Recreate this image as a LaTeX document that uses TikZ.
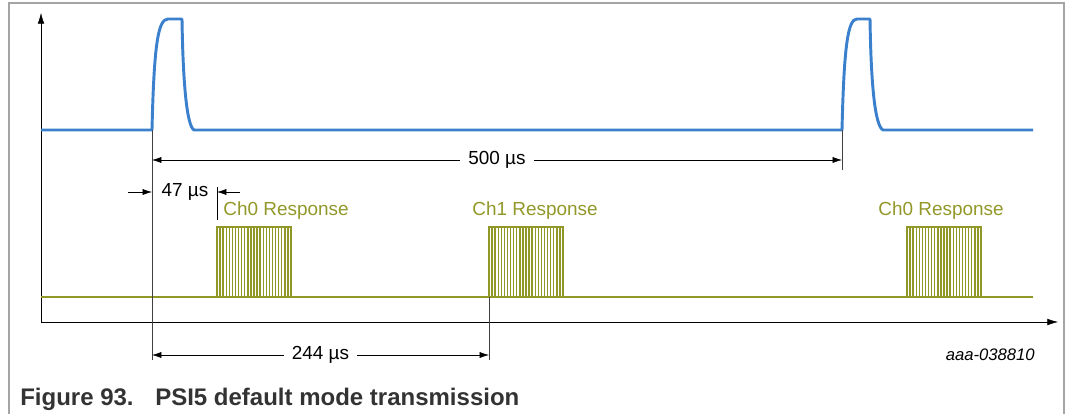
\documentclass[tikz,border=0pt]{standalone}
\usepackage{fontspec}
\setmainfont{Liberation Sans}
\usetikzlibrary{arrows.meta,calc,positioning}
\definecolor{sigblue}{RGB}{58,128,204}
\definecolor{respgreen}{RGB}{146,152,40}
\definecolor{framegray}{RGB}{165,165,165}
\definecolor{capgray}{RGB}{51,51,51}

\begin{document}
\begin{tikzpicture}[x=0.75pt,y=-0.75pt,
    lbl/.style={inner sep=1pt, font=\fontsize{14.2}{16}\selectfont},
    resplbl/.style={lbl, text=respgreen},
    dimline/.style={thin, {Latex[length=7pt,width=4.5pt]}-{Latex[length=7pt,width=4.5pt]}},
    tickline/.style={thin, black!75},
    axis/.style={thin, -{Latex[length=8pt,width=5pt]}},
    caption/.style={anchor=base west, inner sep=0pt, text=capgray, font=\fontsize{18}{20}\selectfont\bfseries}]
        \useasboundingbox (0,0) rectangle (1066,414);
        % Frame
        \draw[framegray, thick] (9,414) -- (9,3) -- (1064,3) -- (1064,414);
        % Define coordinates
        \coordinate (O) at (41,322);
        \coordinate (T0) at (152,130);
        \coordinate (T1) at (842,130);
        \coordinate (C0) at (217,297);
        \coordinate (C1) at (489,297);
        \coordinate (C2) at (907,297);
        % Axes
        \draw[axis] (O) -- (41,13);
        \draw[axis] (O) -- (1058,322);
        % Trigger pulses
        \draw[sigblue, line width=2.2pt, line join=round]
            (41,130) -- (T0) .. controls (154,45) and (158,19) .. (168,19) -- (182,19)
            .. controls (183,85) and (187,126) .. (194,130) -- (T1)
            .. controls (844,45) and (848,19) .. (857,19) -- (870,19)
            .. controls (871,85) and (875,126) .. (883,130) -- (1033,130);
        % Response baseline and blocks
        \draw[respgreen, line width=1.3pt] (41,297) -- (1033,297);
        \foreach \b in {C0,C1,C2} {
            \draw[respgreen, line width=1.5pt] (\b) -- ++(0,-70) -- ++(74,0) -- ++(0,70);
            \foreach \i in {1,...,23}
                \draw[respgreen, line width=1.1pt] ($(\b)+(\i*3.083,0)$) -- ++(0,-70);
        }
        \node[resplbl] (ch0a) at (286,211) {Ch0 Response};
        \node[resplbl] (ch1) at (535,211) {Ch1 Response};
        \node[resplbl] (ch0b) at (941,211) {Ch0 Response};
        % Tick lines
        \coordinate (T0b) at (152,360);
        \coordinate (T1b) at (842,170);
        \coordinate (C1b) at (489,360);
        \coordinate (C0t) at (217,187);
        \coordinate (C0m) at (217,220);
        \draw[tickline] (T0) -- (T0b);
        \draw[tickline] (T1) -- (T1b);
        \draw[tickline] (C1) -- (C1b);
        \draw[tickline, black] (C0t) -- (C0m);
        % 500 us
        \draw[dimline] (152,160) -- node[lbl, fill=white, inner xsep=6pt] (d500) {500 µs} (842,160);
        % 47 us
        \coordinate (a47l) at (128,192);
        \coordinate (a47r) at (240,192);
        \draw[thin, -{Latex[length=7pt,width=4.5pt]}] (a47l) -- (152,192);
        \draw[thin, -{Latex[length=7pt,width=4.5pt]}] (a47r) -- (217,192);
        \node[lbl] (d47) at (185,192) {47 µs};
        % 244 us
        \draw[dimline] (152,355) -- node[lbl, fill=white, inner xsep=6pt] (d244) {244 µs} (489,355);
        % Labels
        \node[anchor=east, inner sep=0pt, font=\fontsize{12.5}{14}\selectfont\itshape] (fig) at (1035,355) {aaa-038810};
        \node[caption] (capnum) at (20,405) {Figure 93.};
        \node[caption] (captxt) at (155,405) {PSI5 default mode transmission};
\end{tikzpicture}
\end{document}
